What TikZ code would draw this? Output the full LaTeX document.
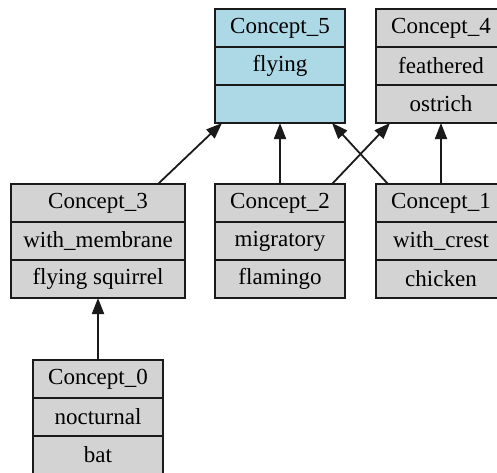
\documentclass[tikz,border=0pt]{standalone}
\usepackage{fontspec}
\setmainfont{Liberation Serif}
\usetikzlibrary{arrows.meta,calc}
\definecolor{boxblue}{HTML}{ADD8E6}
\definecolor{boxgray}{HTML}{D3D3D3}
\definecolor{edgecol}{HTML}{1A1A1A}
\tikzset{
  conceptbox/.style={draw=edgecol, line width=1.6pt, minimum height=114pt, outer sep=0pt, inner sep=0pt, anchor=north west},
  rowtext/.style={font=\fontsize{23}{27}\selectfont, inner sep=0pt},
  divider/.style={draw=edgecol, line width=1.6pt},
  edge/.style={draw=edgecol, line width=1.8pt, -{Triangle[length=16pt,width=12pt]}}
}
\newcommand{\cbox}[7]{%
  \node[conceptbox, fill=#5, minimum width=#4pt] (#1) at (#2,#3) {};
  \draw[divider] ($(#1.north west)+(0,38)$) -- ($(#1.north east)+(0,38)$);
  \draw[divider] ($(#1.north west)+(0,76)$) -- ($(#1.north east)+(0,76)$);
  \node[rowtext] (#1t1) at ($(#1.north)+(0,19)$) {#6};
  \node[rowtext] (#1t2) at ($(#1.north)+(0,57)$) {#7};
}
\begin{document}
\begin{tikzpicture}[x=1pt,y=-1pt]
\useasboundingbox (0,0) rectangle (497,472);
\clip (0,0) rectangle (497,472);
\fill[white] (0,0) rectangle (497,472);
\cbox{c5}{215}{9}{130}{boxblue}{Concept\_5}{flying}
\cbox{c4}{376}{9}{130}{boxgray}{Concept\_4}{feathered}
\node[rowtext] (c4t3) at ($(c4.north)+(0,95)$) {ostrich};
\cbox{c3}{11}{184}{174}{boxgray}{Concept\_3}{with\_membrane}
\node[rowtext] (c3t3) at ($(c3.north)+(0,95)$) {flying squirrel};
\cbox{c2}{215}{184}{130}{boxgray}{Concept\_2}{migratory}
\node[rowtext] (c2t3) at ($(c2.north)+(0,95)$) {flamingo};
\cbox{c1}{376}{184}{130}{boxgray}{Concept\_1}{with\_crest}
\node[rowtext] (c1t3) at ($(c1.north)+(0,95)$) {chicken};
\cbox{c0}{33}{360}{130}{boxgray}{Concept\_0}{nocturnal}
\node[rowtext] (c0t3) at ($(c0.north)+(0,95)$) {bat};
\draw[edge] ($(c3.north east)+(-27,0)$) -- ($(c5.south west)+(7,0)$);
\draw[edge] (c2.north) -- (c5.south);
\draw[edge] ($(c1.north west)+(12,0)$) -- ($(c5.south east)+(-13,0)$);
\draw[edge] ($(c2.north east)+(-13,0)$) -- ($(c4.south west)+(14,0)$);
\draw[edge] (c1.north) -- (c4.south);
\draw[edge] (c0.north) -- (c3.south -| c0.north);
\end{tikzpicture}
\end{document}
